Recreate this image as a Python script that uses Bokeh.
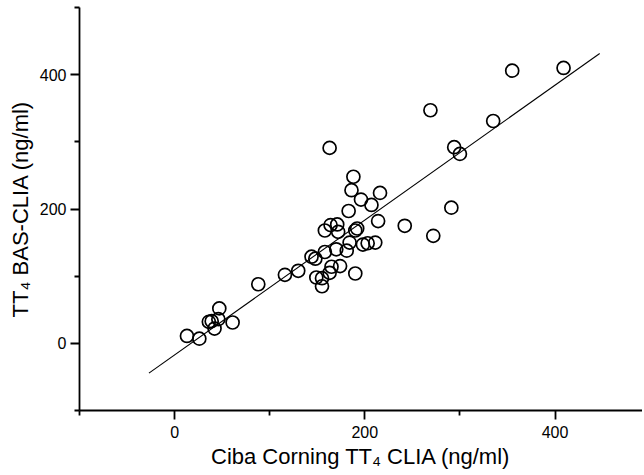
from bokeh.plotting import figure
from bokeh.models import FixedTicker, Range1d
from bokeh.embed import file_html
from bokeh.resources import INLINE

# Ciba Corning TT4 CLIA (x) vs TT4 BAS-CLIA (y), ng/ml
ciba = [13, 26, 36, 39, 47, 46, 42, 61, 88, 116, 130, 144, 148, 149, 155, 155,
        163, 165, 174, 190, 158, 170, 181, 184, 198, 203, 211, 158, 164, 171,
        172, 190, 192, 183, 214, 242, 272, 291, 196, 207, 216, 186, 188, 163,
        269, 294, 300, 335, 355, 409]
bas = [11, 7, 32, 33, 52, 36, 22, 31, 88, 102, 108, 129, 126, 98, 97, 85,
       105, 114, 115, 104, 136, 140, 138, 150, 147, 149, 150, 168, 176, 177,
       166, 168, 171, 197, 182, 175, 160, 202, 214, 206, 224, 228, 248, 291,
       347, 292, 282, 331, 406, 410]

# regression line
fit_slope = 1.004
fit_intercept = -17.3
fit_x = [-27, 447]
fit_y = [fit_slope * v + fit_intercept for v in fit_x]

x_major = [0, 200, 400]
x_minor = [-100, 100, 300, 500]
y_major = [0, 200, 400]
y_minor = [-100, 100, 300, 500]

x_title = "Ciba Corning TT\u2084 CLIA (ng/ml)"
y_title = "TT\u2084 BAS-CLIA (ng/ml)"

FONT = "Liberation Sans"

p = figure(width=642, height=473, output_backend="svg", toolbar_location=None,
           x_range=Range1d(-100, 492), y_range=Range1d(-100, 500),
           min_border_left=79, min_border_right=0, min_border_top=7,
           min_border_bottom=63)
p.outline_line_color = None
p.xgrid.visible = False
p.ygrid.visible = False

p.line(fit_x, fit_y, line_color="black", line_width=1.1)
p.scatter(ciba, bas, size=13, marker="circle", fill_alpha=0,
          line_color="black", line_width=1.7)

p.xaxis.ticker = FixedTicker(ticks=x_major, minor_ticks=x_minor)
p.yaxis.ticker = FixedTicker(ticks=y_major, minor_ticks=y_minor)
p.xaxis.axis_label = x_title
p.yaxis.axis_label = y_title

for ax in (p.xaxis, p.yaxis):
    ax.axis_line_width = 1.8
    ax.axis_line_color = "black"
    ax.major_tick_line_width = 1.8
    ax.minor_tick_line_width = 1.8
    ax.major_tick_line_color = "black"
    ax.minor_tick_line_color = "black"
    ax.major_tick_out = 9
    ax.major_tick_in = 0
    ax.minor_tick_out = 5
    ax.minor_tick_in = 0
    ax.major_label_text_font = FONT
    ax.major_label_text_font_size = "16px"
    ax.major_label_text_color = "black"
    ax.axis_label_text_font = FONT
    ax.axis_label_text_font_size = "22px"
    ax.axis_label_text_font_style = "normal"
    ax.axis_label_text_color = "black"

p.xaxis.major_label_standoff = 6
p.xaxis.axis_label_standoff = 3
p.yaxis.major_label_standoff = 4
p.yaxis.axis_label_standoff = 4

open("out.html", "w").write(file_html(p, INLINE))
